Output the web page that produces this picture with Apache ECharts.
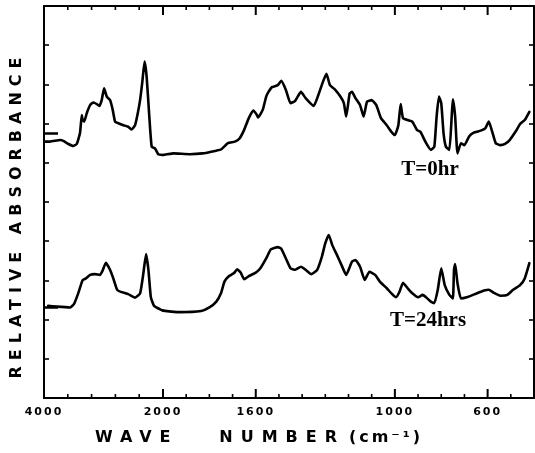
<!DOCTYPE html>
<html>
<head>
<meta charset="utf-8">
<script src="https://cdn.jsdelivr.net/npm/echarts@6/dist/echarts.min.js"></script>
<style>
  html, body { margin: 0; padding: 0; background: #fff; }
  #chart { width: 535px; height: 453px; background: #fff; }
</style>
</head>
<body>
<div id="chart"></div>
<script>
// IR spectra (relative absorbance vs. wave number), two sampling times
const wnTop = [3985,3900,3730,3675,3590,3510,3450,3395,3365,3350,
  3325,3280,3225,3170,3115,3070,3030,2990,2945,2890,
  2845,2805,2750,2665,2585,2525,2470,2430,2385,2350,
  2310,2275,2230,2190,2135,2080,2000,1955,1885,1830,
  1770,1750,1720,1690,1670,1650,1630,1610,1595,1590,
  1570,1555,1545,1530,1505,1490,1470,1450,1430,1405,
  1385,1350,1330,1310,1295,1280,1260,1235,1220,1210,
  1195,1185,1170,1150,1135,1120,1100,1080,1060,1035,
  1015,1000,985,975,965,945,925,905,890,865,
  845,830,820,810,800,790,780,765,755,750,
  740,730,715,700,680,660,630,610,595,580,
  565,545,525,505,480,460,440,420];
const absTop = [6.54,6.54,6.58,6.56,6.48,6.43,6.48,6.76,7.22,7.09,
  7.05,7.27,7.47,7.54,7.50,7.45,7.60,7.90,7.69,7.60,
  7.35,7.05,7.01,6.96,6.92,6.85,6.96,7.22,7.60,8.03,
  8.58,8.20,7.18,6.41,6.37,6.22,6.20,6.24,6.22,6.24,
  6.31,6.34,6.50,6.54,6.62,6.84,7.14,7.33,7.22,7.16,
  7.35,7.69,7.81,7.93,7.98,8.09,7.86,7.52,7.58,7.81,
  7.65,7.45,7.73,8.07,8.27,7.98,7.88,7.69,7.52,7.18,
  7.77,7.81,7.65,7.47,7.18,7.56,7.60,7.47,7.14,6.96,
  6.79,6.71,6.96,7.50,7.14,7.09,7.05,6.84,6.79,6.50,
  6.33,6.41,7.18,7.69,7.52,6.75,6.41,6.33,7.18,7.62,
  7.18,6.24,6.50,6.45,6.67,6.77,6.82,6.88,7.05,6.79,
  6.50,6.45,6.48,6.58,6.79,6.99,7.09,7.30];

const wnBottom = [3930,3785,3565,3495,3425,3350,3295,3225,3145,3060,
  3015,2960,2890,2835,2770,2695,2585,2470,2385,2330,
  2285,2245,2205,2150,2020,2000,1930,1835,1800,1770,
  1750,1735,1715,1695,1680,1665,1650,1630,1600,1580,
  1555,1535,1505,1490,1470,1450,1430,1405,1385,1360,
  1335,1315,1300,1285,1270,1250,1230,1210,1185,1170,
  1150,1130,1110,1085,1065,1035,1015,995,980,965,
  945,925,900,880,860,845,830,815,800,785,
  765,750,745,740,730,715,690,655,615,595,
  575,545,515,490,460,440,420];
const absBottom = [2.35,2.33,2.31,2.40,2.67,3.01,3.05,3.14,3.16,3.14,
  3.25,3.45,3.27,3.05,2.76,2.70,2.65,2.56,2.67,3.18,
  3.67,3.27,2.58,2.35,2.24,2.23,2.19,2.22,2.31,2.46,
  2.67,2.97,3.11,3.18,3.28,3.20,3.03,3.11,3.20,3.31,
  3.56,3.79,3.85,3.81,3.56,3.31,3.27,3.35,3.27,3.16,
  3.27,3.60,3.95,4.16,3.90,3.65,3.39,3.14,3.48,3.52,
  3.35,3.01,3.22,3.14,2.97,2.80,2.67,2.57,2.71,2.94,
  2.80,2.67,2.57,2.63,2.54,2.46,2.42,2.76,3.31,2.88,
  2.63,2.54,3.27,3.42,2.93,2.54,2.57,2.65,2.74,2.76,
  2.69,2.61,2.63,2.76,2.88,3.05,3.44];

// wave-number axis in two linear pieces: 4000-2000 compressed, 2000-400 expanded
const SCALE_BREAK = 2000;
const wnHigh = 4000;
const wnLow = 400;
const minorTicksHigh = [3600, 3200, 2800, 2400];
const labelsHigh = [4000];
const minorTicksLow = [1900, 1800, 1700, 1500, 1400, 1300, 1200, 1100, 900, 800, 700, 500];
const majorTicksLow = [2000, 1600, 1000, 600];
const labelsLow = [2000, 1600, 1000, 600];
const baselineMarks = [6.76, 2.32];

const curveLabels = ['T=0hr', 'T=24hrs'];
const X_TITLE_MAIN = 'WAVE   NUMBER';
const X_TITLE_UNIT = '(cm\u207B\u00B9)';
const Y_TITLE = 'RELATIVE ABSORBANCE';

const INK = '#000';
const AXIS_FONT = 'DejaVu Sans';
const ABS_MIN = 0, ABS_MAX = 10;
const MINOR_LEN = 0.1;   // tick lengths in absorbance units (~4 px and ~9 px)
const MAJOR_LEN = 0.23;

// extra letter spacing for the spaced-out axis lettering (canvas letterSpacing)
const LETTER_SPACING = {};
LETTER_SPACING[X_TITLE_MAIN] = '8px';
LETTER_SPACING[X_TITLE_UNIT] = '3px';
LETTER_SPACING[Y_TITLE] = '6px';
const nativeFillText = CanvasRenderingContext2D.prototype.fillText;
CanvasRenderingContext2D.prototype.fillText = function (text, x, y, maxW) {
  let sp = LETTER_SPACING[text];
  if (!sp && /^\d{3,4}$/.test(text)) sp = '2px';
  if (sp && 'letterSpacing' in this) {
    const prev = this.letterSpacing;
    this.letterSpacing = sp;
    const r = maxW === undefined ? nativeFillText.call(this, text, x, y)
                                 : nativeFillText.call(this, text, x, y, maxW);
    this.letterSpacing = prev;
    return r;
  }
  return nativeFillText.apply(this, arguments);
};

// the wave-number axes run right-to-left: they are laid out on -wn
const flip = v => -v;
function pairs(wn, ab) { return wn.map((w, i) => [flip(w), ab[i]]); }
const topPts = pairs(wnTop, absTop);
const botPts = pairs(wnBottom, absBottom);
const hiPart = pts => pts.filter(p => -p[0] >= SCALE_BREAK);
const loPart = pts => pts.filter(p => -p[0] <= SCALE_BREAK);

// plot areas: 0/1 hold the spectra and absorbance axes, 2/3 carry the wave-number axes
const areaHigh = { left: 44, top: 6, width: 119, height: 392 };
const areaLow = { left: 163, top: 6, width: 371, height: 392 };

function xAx(grid, position, hi, lo, interval, opts) {
  return Object.assign({
    type: 'value', gridIndex: grid, position: position,
    min: flip(hi), max: flip(lo), interval: interval,
    axisLine: { show: true, onZero: false, lineStyle: { color: INK, width: 2 } },
    axisTick: { show: false },
    axisLabel: { show: false },
    splitLine: { show: false }
  }, opts || {});
}

function labelledAx(grid, hi, lo, labels) {
  return xAx(grid, 'bottom', hi, lo, 100, {
    axisLine: { show: false },
    axisLabel: {
      show: true, customValues: labels.map(flip), margin: 9,
      formatter: v => String(flip(v)),
      fontFamily: AXIS_FONT, fontWeight: 'bold', fontSize: 11, color: INK
    }
  });
}

function yAx(grid, position, extra) {
  return Object.assign({
    type: 'value', gridIndex: grid, position: position,
    min: ABS_MIN, max: ABS_MAX, interval: 1,
    axisLine: { show: true, onZero: false, lineStyle: { color: INK, width: 2 } },
    axisTick: { show: true, inside: true, length: 5, lineStyle: { color: INK, width: 1.6 } },
    axisLabel: { show: false },
    splitLine: { show: false }
  }, extra || {});
}

const lineStyle = { color: INK, width: 2.6, join: 'round', cap: 'round' };
function curve(data, xi, yi) {
  return {
    type: 'line', data: data, xAxisIndex: xi, yAxisIndex: yi,
    showSymbol: false, symbol: 'none', smooth: 0.15,
    lineStyle: lineStyle, silent: true
  };
}

// inward tick marks on the bottom and top edges: short broken line segments
// placed through the wave-number and absorbance scales
function tickMarks(values, xi, yi, len, width) {
  const data = [];
  values.forEach(v => {
    const x = flip(v);
    data.push([x, ABS_MIN], [x, ABS_MIN + len], [x, '-'],
              [x, ABS_MAX], [x, ABS_MAX - len], [x, '-']);
  });
  return {
    type: 'line', data: data, xAxisIndex: xi, yAxisIndex: yi,
    showSymbol: false, symbol: 'none', connectNulls: false, clip: false,
    lineStyle: { color: INK, width: width, cap: 'butt' }, silent: true, z: 5
  };
}

const chart = echarts.init(document.getElementById('chart'));
chart.setOption({
  animation: false,
  grid: [
    Object.assign({}, areaHigh),
    Object.assign({}, areaLow),
    Object.assign({}, areaHigh),
    Object.assign({}, areaLow)
  ],
  xAxis: [
    // data axes (scale only)
    xAx(0, 'bottom', wnHigh, SCALE_BREAK, 400, { show: false }),
    xAx(1, 'bottom', SCALE_BREAK, wnLow, 100, { show: false }),
    // drawn wave-number frame lines and labels
    xAx(2, 'bottom', wnHigh, SCALE_BREAK, 400),
    xAx(2, 'top', wnHigh, SCALE_BREAK, 400),
    labelledAx(2, wnHigh, SCALE_BREAK, labelsHigh),
    xAx(3, 'bottom', SCALE_BREAK, wnLow, 100),
    xAx(3, 'top', SCALE_BREAK, wnLow, 100),
    labelledAx(3, SCALE_BREAK, wnLow, labelsLow)
  ],
  yAxis: [
    yAx(0, 'left'),
    yAx(1, 'right'),
    yAx(0, 'left', {
      axisTick: { show: true, inside: true, length: 14, customValues: baselineMarks,
        lineStyle: { color: INK, width: 2.5 } }
    }),
    yAx(2, 'left', { show: false }),
    yAx(3, 'right', { show: false })
  ],
  series: [
    curve(hiPart(topPts), 0, 0),
    curve(loPart(topPts), 1, 1),
    curve(hiPart(botPts), 0, 0),
    curve(loPart(botPts), 1, 1),
    tickMarks(minorTicksHigh, 0, 0, MINOR_LEN, 1.6),
    tickMarks(minorTicksLow, 1, 1, MINOR_LEN, 1.6),
    tickMarks(majorTicksLow, 1, 1, MAJOR_LEN, 2)
  ],
  graphic: [
    { type: 'text', x: 430, y: 170, style: { text: curveLabels[0], fill: INK,
        font: 'bold 21px "Liberation Serif"', textAlign: 'center', textVerticalAlign: 'middle' } },
    { type: 'text', x: 428, y: 321, style: { text: curveLabels[1], fill: INK,
        font: 'bold 21px "Liberation Serif"', textAlign: 'center', textVerticalAlign: 'middle' } },
    { type: 'text', x: 220, y: 438, style: { text: X_TITLE_MAIN, fill: INK,
        font: 'bold 16px "DejaVu Sans"', textAlign: 'center', textVerticalAlign: 'middle' } },
    { type: 'text', x: 386, y: 438, style: { text: X_TITLE_UNIT, fill: INK,
        font: 'bold 16px "DejaVu Sans"', textAlign: 'center', textVerticalAlign: 'middle' } },
    { type: 'text', x: 17, y: 215, rotation: Math.PI / 2, style: { text: Y_TITLE, fill: INK,
        font: 'bold 16px "DejaVu Sans"', textAlign: 'center', textVerticalAlign: 'middle' } }
  ]
});
</script>
</body>
</html>
